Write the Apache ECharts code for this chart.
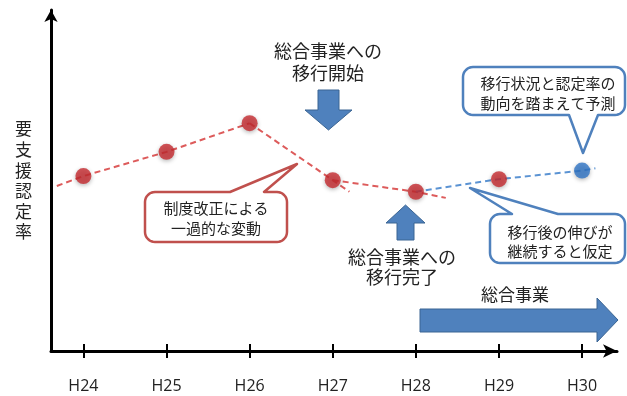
<!DOCTYPE html>
<html>
<head>
<meta charset="utf-8">
<script src="https://cdn.jsdelivr.net/npm/echarts@6/dist/echarts.min.js"></script>
<style>
  html, body { margin: 0; padding: 0; background: #fff; }
  #chart { width: 627px; height: 396px; }
</style>
</head>
<body>
<div id="chart"></div>
<script>
// Fiscal years (Heisei) and their tick labels
const fiscalYears = [24, 25, 26, 27, 28, 29, 30];
const yearLabels = ['H24', 'H25', 'H26', 'H27', 'H28', 'H29', 'H30'];

// Support-need certification rate (relative scale, no numeric axis shown)
const actualYears = [24, 25, 26, 27, 28, 29];
const actualRate = [51.3, 58.4, 66.8, 50.1, 46.7, 50.4];
const forecastYears = [30];
const forecastRate = [52.9];

// Loose ends of the dashed trend segments
const leadInPoint = [23.68, 48.4];
const dropEndPoint = [27.2, 46.7];
const settleEndPoint = [28.36, 44.9];
const forecastEndPoint = [30.16, 53.6];

const RED = '#c62a2f';
const RED_LINE = '#dd5b5b';
const RED_FRAME = '#c0504d';
const BLUE = '#2f74c6';
const BLUE_LINE = '#5b93d3';
const BLUE_FRAME = '#4f81bd';
const ARROW_FILL = '#4f81bd';
const ARROW_EDGE = '#3b6593';
const TEXT = '#222';
const JP = '"Noto Sans CJK JP", sans-serif';

const pt = (yr) => [yr, actualRate[actualYears.indexOf(yr)]];

const preReformTrend = [leadInPoint, pt(24), pt(25), pt(26)];
const reformDrop = [pt(26), pt(27), dropEndPoint];
const transitionTrend = [pt(27), pt(28), settleEndPoint];
const forecastTrend = [pt(28), pt(29), [forecastYears[0], forecastRate[0]], forecastEndPoint];

// Rounded box with a pointed tail, returned as polygon points
function calloutShape(x, y, w, h, r, tail) {
  const pts = [];
  const arc = (cx, cy, a0, a1) => {
    for (let i = 0; i <= 8; i++) {
      const a = a0 + (a1 - a0) * i / 8;
      pts.push([cx + r * Math.cos(a), cy + r * Math.sin(a)]);
    }
  };
  arc(x + r, y + r, Math.PI, 1.5 * Math.PI);
  if (tail.side === 'top') pts.push([tail.base[0], y], tail.tip, [tail.base[1], y]);
  arc(x + w - r, y + r, 1.5 * Math.PI, 2 * Math.PI);
  arc(x + w - r, y + h - r, 0, 0.5 * Math.PI);
  if (tail.side === 'bottom') pts.push([tail.base[1], y + h], tail.tip, [tail.base[0], y + h]);
  arc(x + r, y + h - r, 0.5 * Math.PI, Math.PI);
  return pts;
}

function callout(box, tail, color, text, cx, cy, lh) {
  return [
    {
      type: 'polygon', z: 10,
      shape: { points: calloutShape(box[0], box[1], box[2], box[3], 10, tail) },
      style: { fill: '#fff', stroke: color, lineWidth: 2.5, lineJoin: 'round' }
    },
    {
      type: 'text', z: 11, x: cx, y: cy,
      style: { text: text, font: '15px ' + JP, fill: TEXT, align: 'center', verticalAlign: 'middle', lineHeight: lh }
    }
  ];
}

function label(text, cx, cy, size, lh) {
  return {
    type: 'text', z: 11, x: cx, y: cy,
    style: { text: text, font: size + 'px ' + JP, fill: TEXT, align: 'center', verticalAlign: 'middle', lineHeight: lh }
  };
}

function blockArrow(points) {
  return {
    type: 'polygon', z: 10,
    shape: { points: points },
    style: { fill: ARROW_FILL, stroke: ARROW_EDGE, lineWidth: 1 }
  };
}

const dashed = (data, color) => ({
  type: 'line', data: data, symbol: 'none', silent: true, z: 3,
  lineStyle: { color: color, width: 2, type: [6, 4] }
});

const chart = echarts.init(document.getElementById('chart'), null, { renderer: 'canvas' });

const xBase = {
  type: 'value', min: 23.61, max: 30.42,
  splitLine: { show: false }
};

chart.setOption({
  animation: false,
  backgroundColor: '#fff',
  grid: { left: 51, right: 10, top: 10, bottom: 45, containLabel: false },
  xAxis: [
    Object.assign({}, xBase, {
      position: 'bottom',
      axisLine: { show: true, symbol: ['none', 'arrow'], symbolSize: [10, 14], lineStyle: { color: '#000', width: 3 } },
      axisTick: { show: true, customValues: fiscalYears, length: 7, lineStyle: { color: '#000', width: 2 } },
      axisLabel: {
        show: true, customValues: fiscalYears, margin: 27,
        formatter: (v) => yearLabels[fiscalYears.indexOf(v)] || '',
        color: TEXT, fontSize: 16, fontFamily: '"Open Sans", sans-serif'
      }
    }),
    Object.assign({}, xBase, {
      position: 'bottom',
      axisLine: { show: false },
      axisTick: { show: true, inside: true, customValues: fiscalYears, length: 7, lineStyle: { color: '#000', width: 2 } },
      axisLabel: { show: false }
    })
  ],
  yAxis: {
    type: 'value', min: 0, max: 100,
    axisLine: { show: true, symbol: ['none', 'arrow'], symbolSize: [10, 12], lineStyle: { color: '#000', width: 3 } },
    axisTick: { show: false },
    axisLabel: { show: false },
    splitLine: { show: false },
    name: '要\n支\n援\n認\n定\n率',
    nameLocation: 'middle',
    nameRotate: 0,
    nameGap: 19,
    nameTextStyle: { color: TEXT, fontSize: 17, fontFamily: JP, lineHeight: 20.6, padding: [16, 0, 0, 0] }
  },
  series: [
    dashed(preReformTrend, RED_LINE),
    dashed(reformDrop, RED_LINE),
    dashed(transitionTrend, RED_LINE),
    dashed(forecastTrend, BLUE_LINE),
    {
      type: 'scatter', z: 5, symbolSize: 16,
      data: actualYears.map((yr, i) => [yr, actualRate[i]]),
      itemStyle: { color: RED, shadowBlur: 4, shadowColor: 'rgba(0,0,0,0.35)', shadowOffsetY: 1.5 }
    },
    {
      type: 'scatter', z: 5, symbolSize: 16,
      data: forecastYears.map((yr, i) => [yr, forecastRate[i]]),
      itemStyle: { color: BLUE, shadowBlur: 4, shadowColor: 'rgba(0,0,0,0.35)', shadowOffsetY: 1.5 }
    }
  ],
  graphic: [].concat(
    [label('総合事業への\n移行開始', 328, 62, 18, 22)],
    [blockArrow([[318, 90], [339, 90], [339, 110], [352, 110], [328.5, 130], [305, 110], [318, 110]])],
    callout([145, 192, 142, 50], { side: 'top', base: [230, 264], tip: [297, 164] }, RED_FRAME,
      '制度改正による\n一過的な変動', 216, 218, 20),
    callout([463, 67, 162, 48], { side: 'bottom', base: [569, 598], tip: [583, 153] }, BLUE_FRAME,
      '移行状況と認定率の\n動向を踏まえて予測', 548, 93, 20),
    [blockArrow([[397, 240], [414, 240], [414, 223], [425, 223], [405.5, 205], [386, 223], [397, 223]])],
    [label('総合事業への\n移行完了', 402, 267, 18, 20)],
    callout([490, 214, 135, 49], { side: 'top', base: [512, 558], tip: [470, 188] }, BLUE_FRAME,
      '移行後の伸びが\n継続すると仮定', 560, 242, 19),
    [label('総合事業', 515, 295, 17, 20)],
    [blockArrow([[420, 309], [597, 309], [597, 298], [618, 320], [597, 342], [597, 332], [420, 332]])]
  )
});
</script>
</body>
</html>
